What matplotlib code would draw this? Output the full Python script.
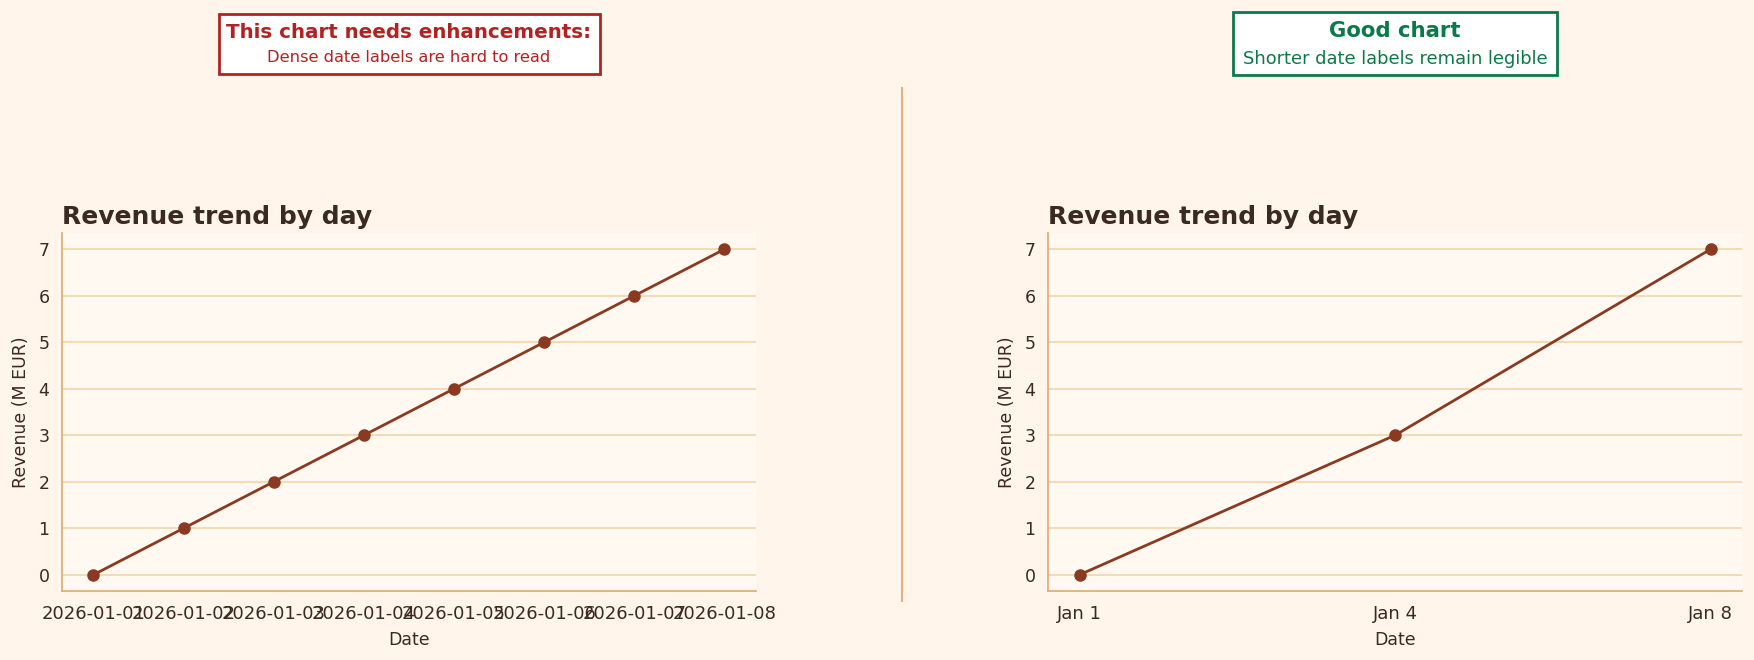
import matplotlib
matplotlib.use("Agg")
import matplotlib.pyplot as plt
from matplotlib.patches import Rectangle
from matplotlib.lines import Line2D

# data
dates_dense = ["2026-01-01", "2026-01-02", "2026-01-03", "2026-01-04",
               "2026-01-05", "2026-01-06", "2026-01-07", "2026-01-08"]
revenue_dense = [0, 1, 2, 3, 4, 5, 6, 7]
dates_short = ["Jan 1", "Jan 4", "Jan 8"]
revenue_short = [0, 3, 7]
yticks = [0, 1, 2, 3, 4, 5, 6, 7]

# colours
BG = "#FFF5EA"
AX_BG = "#FFF9F1"
GRID = "#F3D6AA"
SPINE = "#DFA96C"
LINE = "#8B3A22"
TEXT = "#3B2A20"
BAD = "#B22222"
GOOD = "#0B7A4A"

plt.rcParams['font.family'] = ['DejaVu Sans']

fig = plt.figure(figsize=(17.54, 6.6), dpi=100, facecolor=BG)

ax1 = fig.add_axes([0.0353, 0.1045, 0.3957, 0.5425])
ax2 = fig.add_axes([0.5975, 0.1045, 0.3957, 0.5425])


def style(ax):
    ax.set_facecolor(AX_BG)
    for s in ["top", "right"]:
        ax.spines[s].set_visible(False)
    for s in ["left", "bottom"]:
        ax.spines[s].set_color(SPINE)
        ax.spines[s].set_linewidth(1.2)
    ax.grid(axis="y", color=GRID, linewidth=1.2)
    ax.set_axisbelow(True)
    ax.tick_params(axis="both", length=0, colors=TEXT)
    ax.tick_params(axis="x", pad=10, labelsize=13)
    ax.tick_params(axis="y", pad=9, labelsize=12.5)
    ax.set_yticks(yticks)
    ax.set_title("Revenue trend by day", loc="left", fontsize=18,
                 fontweight="bold", color=TEXT, pad=6.5)
    ax.set_xlabel("Date", fontsize=12.5, color=TEXT, labelpad=6)
    ax.set_ylabel("Revenue (M EUR)", fontsize=12.5, color=TEXT, labelpad=6)


# left: dense labels
ax1.plot(dates_dense, revenue_dense, color=LINE, linewidth=2,
         marker="o", markersize=8)
style(ax1)

# right: short labels
ax2.plot(dates_short, revenue_short, color=LINE, linewidth=2,
         marker="o", markersize=8)
style(ax2)

# divider
fig.add_artist(Line2D([0.5143, 0.5143], [0.0894, 0.866], color="#E2B37E",
                      linewidth=1.5, transform=fig.transFigure))

# annotation boxes
fig.add_artist(Rectangle((219 / 1754, 1 - 74 / 660), 381 / 1754, 60 / 660,
                         transform=fig.transFigure, facecolor="white",
                         edgecolor=BAD, linewidth=2))
fig.text(409 / 1754, 1 - 32 / 660, "This chart needs enhancements:",
         ha="center", va="center", fontsize=14.3, fontweight="bold", color=BAD)
fig.text(409 / 1754, 1 - 58 / 660, "Dense date labels are hard to read",
         ha="center", va="center", fontsize=11.7, color=BAD)

fig.add_artist(Rectangle((1233 / 1754, 1 - 75 / 660), 324 / 1754, 63 / 660,
                         transform=fig.transFigure, facecolor="white",
                         edgecolor=GOOD, linewidth=2))
fig.text(1395 / 1754, 1 - 31 / 660, "Good chart",
         ha="center", va="center", fontsize=15.3, fontweight="bold", color=GOOD)
fig.text(1395 / 1754, 1 - 59 / 660, "Shorter date labels remain legible",
         ha="center", va="center", fontsize=12.9, color=GOOD)

fig.savefig("out.png", dpi=100, facecolor=BG)
